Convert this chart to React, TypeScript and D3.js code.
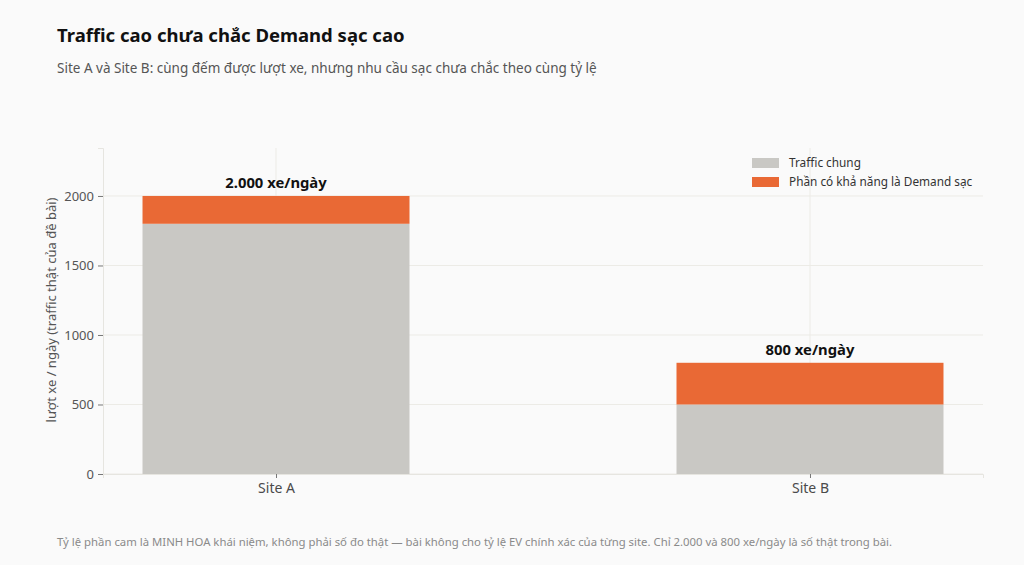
import React, { useEffect, useRef } from 'react';
import * as d3 from 'd3';

const sites = ['Site A', 'Site B'];
const trafficValues = [1800, 500];
const demandValues = [200, 300];
const totalLabels = ['2.000 xe/ngày', '800 xe/ngày'];
const yTicks = [0, 500, 1000, 1500, 2000];
const seriesNames = ['Traffic chung', 'Phần có khả năng là Demand sạc'];

const FONT = '"Segoe UI", "Noto Sans", sans-serif';
const GRAY = '#c9c8c4';
const ORANGE = '#e96935';

const App: React.FC = () => {
  const svgRef = useRef<SVGSVGElement>(null);

  useEffect(() => {
    if (!svgRef.current) return;
    const svg = d3.select(svgRef.current);
    svg.selectAll('*').remove();

    const W = 1024;
    const H = 565;
    const margin = { top: 148, right: 41, bottom: 91, left: 103 };
    const width = W - margin.left - margin.right;
    const height = H - margin.top - margin.bottom;

    svg.attr('width', W).attr('height', H).style('font-family', FONT);

    svg.append('rect').attr('width', W).attr('height', H).attr('fill', '#fafafa');

    const g = svg.append('g').attr('transform', `translate(${margin.left},${margin.top})`);

    const x = d3.scalePoint<string>().domain(sites).range([0, width]).padding(0.324);
    const step = x.step();
    const barW = step * 0.5;
    const y = d3.scaleLinear().domain([0, 2345]).range([height, 0]);

    // grid
    g.selectAll('.gy')
      .data(yTicks)
      .enter()
      .append('line')
      .attr('x1', 0)
      .attr('x2', width)
      .attr('y1', d => y(d))
      .attr('y2', d => y(d))
      .attr('stroke', '#ecebe6')
      .attr('stroke-width', 1);

    g.selectAll('.gx')
      .data(sites)
      .enter()
      .append('line')
      .attr('x1', d => x(d)!)
      .attr('x2', d => x(d)!)
      .attr('y1', 0)
      .attr('y2', height)
      .attr('stroke', '#ecebe6')
      .attr('stroke-width', 1);

    // stacked bars
    g.selectAll('.traffic')
      .data(sites)
      .enter()
      .append('rect')
      .attr('x', d => x(d)! - barW / 2)
      .attr('width', barW)
      .attr('y', (_, i) => y(trafficValues[i]))
      .attr('height', (_, i) => y(0) - y(trafficValues[i]))
      .attr('fill', GRAY);

    g.selectAll('.demand')
      .data(sites)
      .enter()
      .append('rect')
      .attr('x', d => x(d)! - barW / 2)
      .attr('width', barW)
      .attr('y', (_, i) => y(trafficValues[i] + demandValues[i]))
      .attr('height', (_, i) => y(trafficValues[i]) - y(trafficValues[i] + demandValues[i]))
      .attr('fill', ORANGE);

    g.selectAll('.total')
      .data(sites)
      .enter()
      .append('text')
      .attr('x', d => x(d)!)
      .attr('y', (_, i) => y(trafficValues[i] + demandValues[i]) - 8)
      .attr('text-anchor', 'middle')
      .style('font-size', '14.8px')
      .style('font-weight', 700)
      .style('fill', '#111')
      .text((_, i) => totalLabels[i]);

    // axes
    const yAxis = g.append('g').call(
      d3.axisLeft(y).tickValues(yTicks).tickFormat(d3.format('d')).tickSize(5).tickPadding(4)
    );
    yAxis.select('.domain').attr('stroke', '#e6e5e0');
    yAxis.selectAll('.tick line').attr('stroke', '#777');
    yAxis.selectAll('.tick text').style('font-size', '13px').style('fill', '#555').style('font-family', FONT);

    const xAxis = g.append('g')
      .attr('transform', `translate(0,${height})`)
      .call(d3.axisBottom(x).tickSize(4).tickPadding(5));
    xAxis.select('.domain').attr('stroke', '#e6e5e0');
    xAxis.selectAll('.tick line').attr('stroke', '#777');
    xAxis.selectAll('.tick text').style('font-size', '14px').style('fill', '#4a4a4a').style('font-family', FONT);

    g.append('text')
      .attr('transform', `translate(${-47},${y(1000) - 25}) rotate(-90)`)
      .attr('text-anchor', 'middle')
      .style('font-size', '13px')
      .style('fill', '#555')
      .text('lượt xe / ngày (traffic thật của đề bài)');

    // legend
    const legend = svg.append('g').attr('transform', 'translate(752,158)');
    seriesNames.forEach((name, i) => {
      legend.append('rect')
        .attr('x', 0)
        .attr('y', i * 19)
        .attr('width', 27)
        .attr('height', 10)
        .attr('fill', i === 0 ? GRAY : ORANGE);
      legend.append('text')
        .attr('x', 37)
        .attr('y', i * 19 + 5)
        .attr('dy', '0.35em')
        .style('font-size', '11.8px')
        .style('fill', '#333')
        .text(name);
    });

    // titles
    svg.append('text')
      .attr('x', 57)
      .attr('y', 42)
      .style('font-size', '18.5px')
      .style('font-weight', 700)
      .style('fill', '#111')
      .text('Traffic cao chưa chắc Demand sạc cao');

    svg.append('text')
      .attr('x', 57)
      .attr('y', 73)
      .style('font-size', '13.5px')
      .style('fill', '#555')
      .text('Site A và Site B: cùng đếm được lượt xe, nhưng nhu cầu sạc chưa chắc theo cùng tỷ lệ');

    svg.append('text')
      .attr('x', 57)
      .attr('y', 546)
      .style('font-size', '11.35px')
      .style('fill', '#8a8a8a')
      .text('Tỷ lệ phần cam là MINH HOA khái niệm, không phải số đo thật — bài không cho tỷ lệ EV chính xác của từng site. Chỉ 2.000 và 800 xe/ngày là số thật trong bài.');
  }, []);

  return <svg ref={svgRef} style={{ display: 'block', position: 'absolute', left: 0, top: 0 }} />;
};

export default App;
